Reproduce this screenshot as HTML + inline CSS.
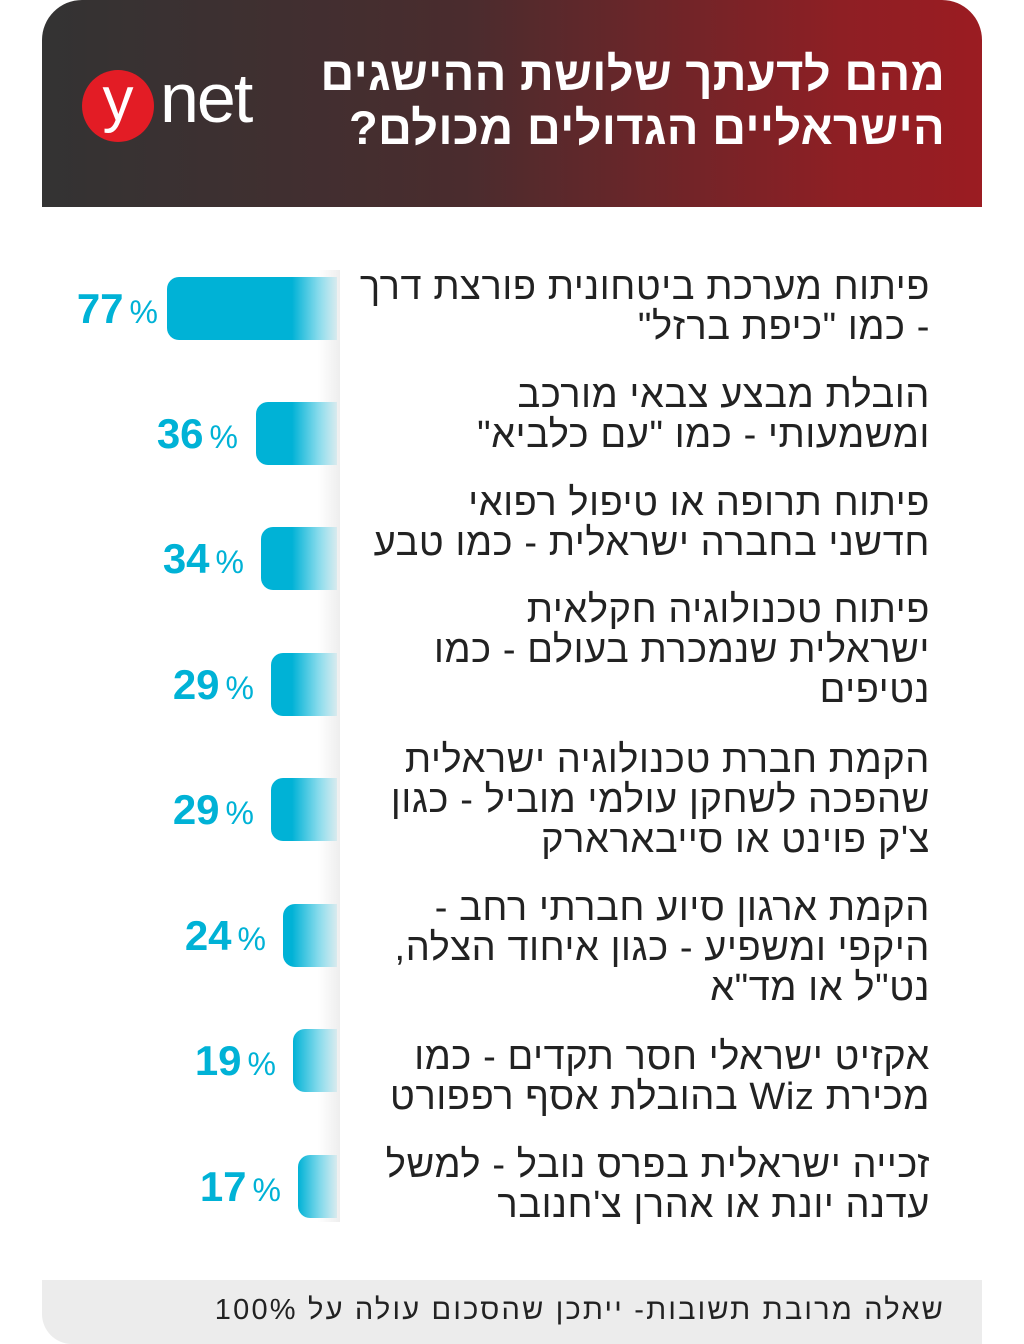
<!DOCTYPE html>
<html><head><meta charset="utf-8"><style>
body{margin:0;width:1024px;height:1344px;background:#fff;position:relative;overflow:hidden;font-family:"Liberation Sans","Noto Sans CJK SC",sans-serif}
.hdr{position:absolute;left:42px;top:0;width:940px;height:207px;background:linear-gradient(90deg,#333 0%,#4a2c2e 45%,#8e1f24 85%,#9b1c22 100%);border-radius:40px 40px 0 0}
.title{position:absolute;right:79px;top:47px;direction:rtl;text-align:right;color:#fff;font-weight:bold;font-size:47px;line-height:54px;letter-spacing:0.3px;white-space:nowrap}
.logo{position:absolute;left:82px;top:70px;width:72px;height:72px;border-radius:50%;background:#e31c25;color:#fff;font-size:62px;text-align:center;line-height:60px}
.net{position:absolute;left:160px;top:60px;color:#fff;font-size:70px;line-height:76px;letter-spacing:-2px}
.strip{position:absolute;left:318px;top:270px;width:22px;height:952px;background:linear-gradient(90deg,#fff,#eee)}
.bar{position:absolute;height:63px;border-radius:12px 0 0 12px;background:linear-gradient(90deg,#00b2d6 0,#00b2d6 calc(100% - 45px),rgba(0,178,214,0.1) 100%)}
.pct{position:absolute;color:#00b2d6;font-size:42px;line-height:63px;text-align:right;width:150px;font-weight:bold}
.pct span{font-size:32px;margin-left:6px;font-weight:normal}
.t{position:absolute;right:94px;direction:rtl;text-align:right;font-size:38px;line-height:40px;color:#222;width:640px;letter-spacing:0.6px;white-space:nowrap}
.foot{position:absolute;left:42px;top:1280px;width:940px;height:64px;background:#ececec;border-radius:0 0 0 30px}
.foot div{position:absolute;right:37px;top:14px;direction:rtl;font-size:29px;color:#222;letter-spacing:2.2px;white-space:nowrap}
</style></head><body>
<div class="hdr"></div>
<div class="title">מהם לדעתך שלושת ההישגים<br>הישראליים הגדולים מכולם?</div>
<div class="logo">y</div><div class="net">net</div>
<div class="strip"></div>

<div class="bar" style="left:167px;top:277px;width:170px"></div><div class="pct" style="left:8px;top:277px">77<span>%</span></div>
<div class="bar" style="left:256px;top:402px;width:81px"></div><div class="pct" style="left:88px;top:402px">36<span>%</span></div>
<div class="bar" style="left:261px;top:527px;width:76px"></div><div class="pct" style="left:94px;top:527px">34<span>%</span></div>
<div class="bar" style="left:271px;top:653px;width:66px"></div><div class="pct" style="left:104px;top:653px">29<span>%</span></div>
<div class="bar" style="left:271px;top:778px;width:66px"></div><div class="pct" style="left:104px;top:778px">29<span>%</span></div>
<div class="bar" style="left:283px;top:904px;width:54px"></div><div class="pct" style="left:116px;top:904px">24<span>%</span></div>
<div class="bar" style="left:293px;top:1029px;width:44px"></div><div class="pct" style="left:126px;top:1029px">19<span>%</span></div>
<div class="bar" style="left:298px;top:1155px;width:39px"></div><div class="pct" style="left:131px;top:1155px">17<span>%</span></div>

<div class="t" style="top:267px">פיתוח מערכת ביטחונית פורצת דרך<br>- כמו "כיפת ברזל"</div>
<div class="t" style="top:375px">הובלת מבצע צבאי מורכב<br>ומשמעותי - כמו "עם כלביא"</div>
<div class="t" style="top:483px">פיתוח תרופה או טיפול רפואי<br>חדשני בחברה ישראלית - כמו טבע</div>
<div class="t" style="top:590px">פיתוח טכנולוגיה חקלאית<br>ישראלית שנמכרת בעולם - כמו<br>נטיפים</div>
<div class="t" style="top:740px">הקמת חברת טכנולוגיה ישראלית<br>שהפכה לשחקן עולמי מוביל - כגון<br>צ'ק פוינט או סייבארארק</div>
<div class="t" style="top:888px">הקמת ארגון סיוע חברתי רחב -<br>היקפי ומשפיע - כגון איחוד הצלה,<br>נט"ל או מד"א</div>
<div class="t" style="top:1037px">אקזיט ישראלי חסר תקדים - כמו<br>מכירת Wiz בהובלת אסף רפפורט</div>
<div class="t" style="top:1145px">זכייה ישראלית בפרס נובל - למשל<br>עדנה יונת או אהרן צ'חנובר</div>

<div class="foot"><div>שאלה מרובת תשובות- ייתכן שהסכום עולה על 100%</div></div>
</body></html>
